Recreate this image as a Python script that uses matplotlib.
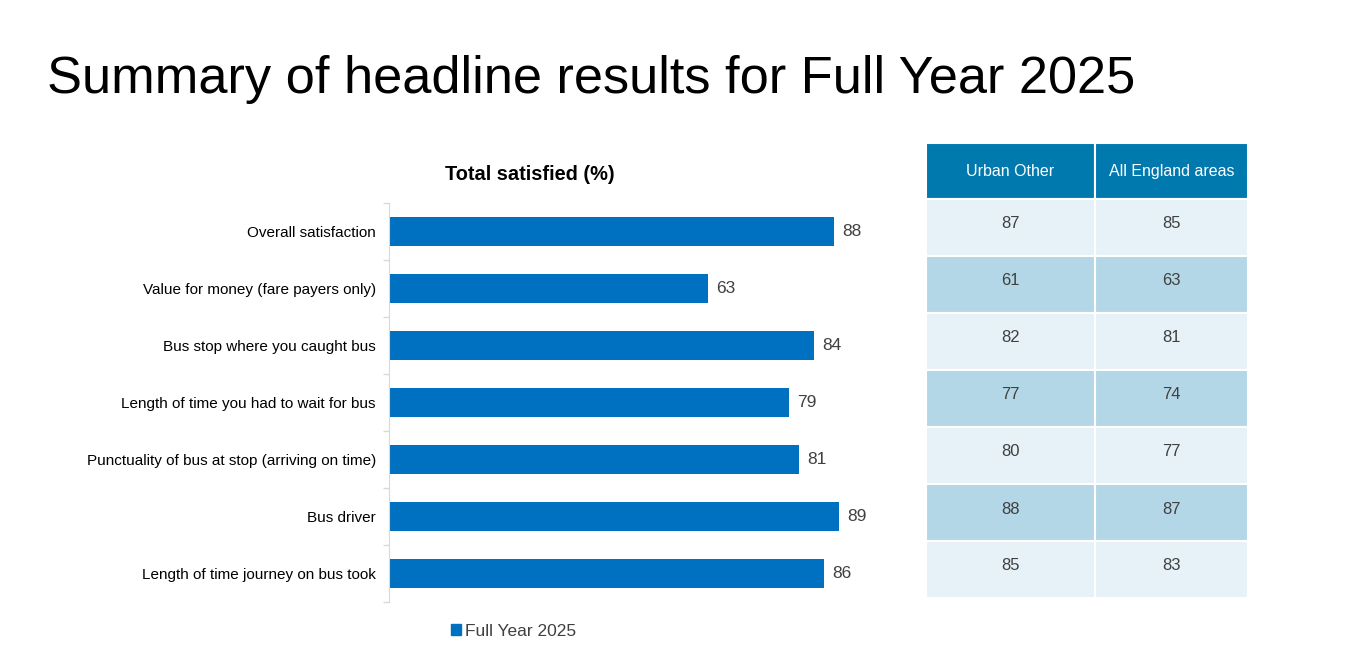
import numpy as np
import matplotlib
matplotlib.use("Agg")
import matplotlib.pyplot as plt
from matplotlib.patches import Rectangle, Patch

plt.rcParams['font.family'] = ['Liberation Sans', 'DejaVu Sans']

# data
categories = [
  "Overall satisfaction",
  "Value for money (fare payers only)",
  "Bus stop where you caught bus",
  "Length of time you had to wait for bus",
  "Punctuality of bus at stop (arriving on time)",
  "Bus driver",
  "Length of time journey on bus took",
]
full_year_2025 = [88, 63, 84, 79, 81, 89, 86]

table_headers = ["Urban Other", "All England areas"]
urban_other = [87, 61, 82, 77, 80, 88, 85]
all_england = [85, 63, 81, 74, 77, 87, 83]

BAR_COLOR = "#0070C0"
HEAD_COLOR = "#0079AE"
ROW_LIGHT = "#E6F1F8"
ROW_DARK = "#B4D7E7"
TEXT_GREY = "#404040"

W, H = 1350, 660
fig = plt.figure(figsize=(13.5, 6.6), dpi=100, facecolor='w')

fig.text(47 / W, 1 - 93 / H, "Summary of headline results for Full Year 2025",
         fontsize=37.75, ha='left', va='baseline', color='black')

# bar chart
ax = fig.add_axes([389 / W, 1 - 602 / H, 506 / W, 399 / H])
y = np.arange(len(categories))
ax.barh(y, full_year_2025, height=0.5, color=BAR_COLOR)
ax.set_xlim(0, 100)
ax.set_ylim(len(categories) - 0.5, -0.5)
ax.set_yticks(y)
ax.set_yticklabels(categories, fontsize=11, color='black')
ax.set_yticks(np.arange(len(categories) + 1) - 0.5, minor=True)
ax.tick_params(axis='y', which='major', length=0, pad=9.4)
ax.tick_params(axis='y', which='minor', length=4, color='#D9D9D9', width=1)
ax.set_xticks([])
for side in ['top', 'right', 'bottom']:
  ax.spines[side].set_visible(False)
ax.spines['left'].set_color('#D9D9D9')

for yi, v in zip(y, full_year_2025):
  ax.annotate(str(v), (v, yi), xytext=(6, 0), textcoords='offset points',
              ha='left', va='center', fontsize=12.5, color=TEXT_GREY)

fig.text(530 / W, 1 - 175 / H, "Total satisfied (%)", fontsize=14.4,
         fontweight='bold', ha='center', va='center')

fig.legend(handles=[Patch(color=BAR_COLOR, label="Full Year 2025")],
           loc='center', bbox_to_anchor=(514 / W, 1 - 631 / H), frameon=False,
           handlelength=0.55, handleheight=0.55, handletextpad=0.25,
           prop={'size': 12.5}, labelcolor=TEXT_GREY)

# table
HEAD_H = 56
ROW_H = 57
col_w = [169, 153]
tab_h = HEAD_H + ROW_H * len(urban_other)
axt = fig.add_axes([926 / W, 1 - (143 + tab_h) / H, sum(col_w) / W, tab_h / H])
axt.set_xlim(0, sum(col_w))
axt.set_ylim(tab_h, 0)
axt.axis('off')

x0 = [0, col_w[0]]
for c, head in enumerate(table_headers):
  axt.add_patch(Rectangle((x0[c], 0), col_w[c], HEAD_H, facecolor=HEAD_COLOR,
                          edgecolor='white', linewidth=1.5))
  axt.text(x0[c] + col_w[c] / 2, HEAD_H / 2 + 1, head, color='white',
           fontsize=11.5, ha='center', va='center')

for r, (a, b) in enumerate(zip(urban_other, all_england)):
  top = HEAD_H + r * ROW_H
  fc = ROW_LIGHT if r % 2 == 0 else ROW_DARK
  for c, v in enumerate([a, b]):
    axt.add_patch(Rectangle((x0[c], top), col_w[c], ROW_H, facecolor=fc,
                            edgecolor='white', linewidth=1.5))
    axt.text(x0[c] + col_w[c] / 2, top + 25, str(v), color=TEXT_GREY,
             fontsize=12, ha='center', va='center')

fig.savefig("out.png", dpi=100)
